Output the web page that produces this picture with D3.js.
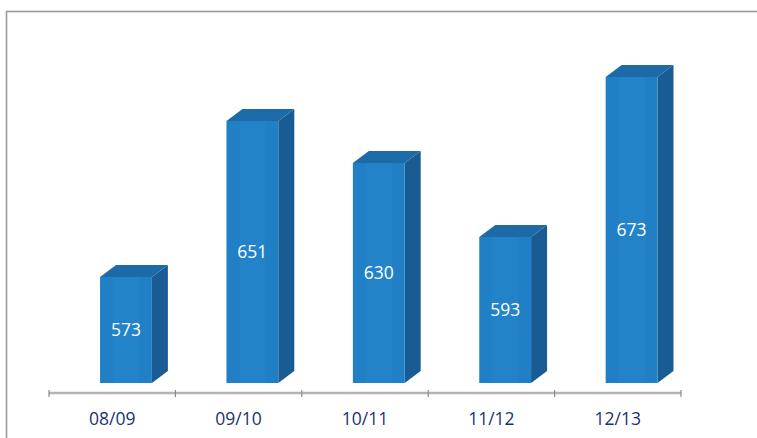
<!DOCTYPE html>
<html><head><meta charset="utf-8">
<script src="https://cdn.jsdelivr.net/npm/d3@7"></script>
<style>html,body{margin:0;padding:0;background:#fff;}svg{display:block;}</style>
</head><body>
<svg id="c" width="757" height="438"></svg>
<script>
const categories = ["08/09","09/10","10/11","11/12","12/13"];
const values = [573, 651, 630, 593, 673];

const svg = d3.select("#c");

// chart border
svg.append("rect").attr("x",6.5).attr("y",11.5).attr("width",760).attr("height",440)
  .attr("fill","#fff").attr("stroke","#9a9a9a").attr("stroke-width",1.6);

const x = d3.scaleBand().domain(categories).range([49, 681]).padding(0);
const y = d3.scaleLinear().domain([520, 700]).range([383, 23]);

const bw = x.bandwidth();
const faceOff = bw*0.404, faceW = bw*0.41;
const dx = 16, dy = 12;
const font = "'Open Sans', 'Liberation Sans', sans-serif";

const bars = svg.append("g").selectAll("g.bar").data(categories).enter().append("g");
bars.each(function(c,i){
  const s = d3.select(this);
  const x0 = x(c)+faceOff, x1 = x0+faceW;
  const yt = y(values[i]), yb = y.range()[0];
  s.append("path").attr("d",`M${x1},${yb}L${x1+dx},${yb-dy}L${x1+dx},${yt-dy}L${x1},${yt}Z`).attr("fill","#195c93");
  s.append("path").attr("d",`M${x0},${yt}L${x0+dx},${yt-dy}L${x1+dx},${yt-dy}L${x1},${yt}Z`).attr("fill","#1c6aa7");
  s.append("rect").attr("x",x0).attr("y",yt).attr("width",faceW).attr("height",yb-yt).attr("fill","#2180c5");
  s.append("rect").attr("x",x0+faceW*0.25).attr("y",yt).attr("width",faceW*0.5).attr("height",yb-yt).attr("fill","#2385cb").attr("opacity",0.6);
  s.append("text").attr("x",x0+faceW/2).attr("y",(yt+yb)/2).attr("dy","0.36em")
    .attr("text-anchor","middle").attr("fill","#fff")
    .attr("font-family",font).attr("font-size",17.5)
    .text(values[i]);
});

// axis
const axY = 393;
svg.append("line").attr("x1",49).attr("x2",681).attr("y1",axY).attr("y2",axY)
  .attr("stroke","#b4b4b4").attr("stroke-width",2.5);
const ticks = categories.map(c=>x(c)).concat([x.range()[1]]);
svg.selectAll("line.tk").data(ticks).enter().append("line")
  .attr("x1",d=>d).attr("x2",d=>d).attr("y1",axY-3).attr("y2",axY+4)
  .attr("stroke","#8a8a8a").attr("stroke-width",1.2);

svg.selectAll("text.cat").data(categories).enter().append("text")
  .attr("x",d=>x(d)+bw/2).attr("y",425).attr("text-anchor","middle")
  .attr("fill","#1c3370").attr("font-family",font)
  .attr("font-size",17.5).text(d=>d);
</script>
</body></html>
